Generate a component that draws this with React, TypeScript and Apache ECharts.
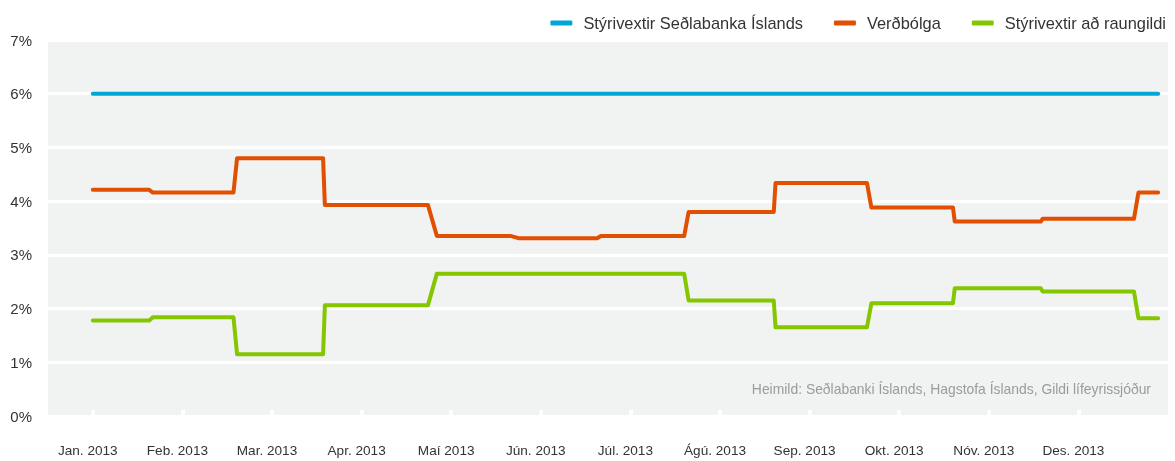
import React, { useEffect, useRef } from "react";
import * as echarts from "echarts";

// x values are in months since Jan. 2013 (0 = Jan. 2013 tick, 1 = Feb. 2013 tick, ...)
const monthLabels = [
  "Jan. 2013", "Feb. 2013", "Mar. 2013", "Apr. 2013", "Maí 2013", "Jún. 2013",
  "Júl. 2013", "Ágú. 2013", "Sep. 2013", "Okt. 2013", "Nóv. 2013", "Des. 2013",
];
const monthTicks = [0, 1, 2, 3, 4, 5, 6, 7, 8, 9, 10, 11];

const seriesNames = ["Stýrivextir Seðlabanka Íslands", "Verðbólga", "Stýrivextir að raungildi"];
const seriesColors = ["#00a6d6", "#e14f00", "#84c600"];

// [start, end, value %]
const styrivextirSteps: [number, number, number][] = [[0, 11.89, 6.0]];
const verdbolgaSteps: [number, number, number][] = [
  [0, 0.63, 4.21], [0.67, 1.57, 4.16], [1.61, 2.57, 4.8], [2.59, 3.74, 3.93],
  [3.84, 4.67, 3.35], [4.75, 5.63, 3.31], [5.67, 6.6, 3.35], [6.65, 7.6, 3.8],
  [7.62, 8.64, 4.34], [8.69, 9.6, 3.88], [9.62, 10.58, 3.62], [10.6, 11.62, 3.67],
  [11.67, 11.89, 4.16],
];
const raungildiSteps: [number, number, number][] = [
  [0, 0.63, 1.78], [0.67, 1.57, 1.84], [1.61, 2.57, 1.15], [2.59, 3.74, 2.06],
  [3.84, 6.6, 2.65], [6.65, 7.6, 2.15], [7.62, 8.64, 1.65], [8.69, 9.6, 2.1],
  [9.62, 10.58, 2.38], [10.6, 11.62, 2.32], [11.67, 11.89, 1.82],
];
const yTicks = [0, 1, 2, 3, 4, 5, 6, 7];
const sourceText = "Heimild: Seðlabanki Íslands, Hagstofa Íslands, Gildi lífeyrissjóður";

const toPoints = (steps: [number, number, number][]) =>
  steps.flatMap(([a, b, v]) => [[a, v], [b, v]]);

const FONT = "'Liberation Sans', Arial, sans-serif";

export default function App() {
  const ref = useRef<HTMLDivElement>(null);
  useEffect(() => {
    if (!ref.current) return;
    const chart = echarts.init(ref.current, undefined, { renderer: "svg" });
    const allSteps = [styrivextirSteps, verdbolgaSteps, raungildiSteps];
    chart.setOption({
      animation: false,
      textStyle: { fontFamily: FONT },
      grid: {
        left: 48, right: 7, top: 40, bottom: 45,
        show: true, backgroundColor: "#f1f2f2", borderWidth: 0,
        outerBoundsMode: "none",
      },
      legend: {
        right: 4, top: 10,
        icon: "roundRect", itemWidth: 22, itemHeight: 5, itemGap: 31,
        textStyle: { fontSize: 16.4, color: "#333", fontFamily: FONT, padding: [0, 0, 0, 6] },
        data: seriesNames,
      },
      xAxis: {
        type: "value", min: -0.5, max: 12,
        axisLine: { show: false },
        splitLine: { show: false },
        axisTick: {
          show: true, inside: true, length: 6,
          lineStyle: { color: "#ffffff", width: 4 },
          customValues: monthTicks,
        },
        axisLabel: {
          customValues: monthTicks,
          formatter: (v: number) => monthLabels[Math.round(v)] ?? "",
          fontSize: 13.6, color: "#333", margin: 27, fontFamily: FONT,
          padding: [0, 10, 0, 0],
        },
      },
      yAxis: {
        type: "value", min: 0, max: 7, interval: 1,
        axisLine: { show: false }, axisTick: { show: false },
        splitLine: { show: true, lineStyle: { color: "#ffffff", width: 3 } },
        axisLabel: {
          formatter: (v: number) => (yTicks.includes(v) ? `${v}%` : ""),
          fontSize: 15, color: "#333", margin: 16, fontFamily: FONT,
        },
      },
      series: seriesNames.map((name, i) => ({
        name, type: "line", showSymbol: false, symbol: "none",
        color: seriesColors[i],
        lineStyle: { width: 4, color: seriesColors[i], cap: "round", join: "round" },
        data: toPoints(allSteps[i]),
      })),
      graphic: [
        {
          type: "text", right: 24, top: 382,
          style: { text: sourceText, fill: "#9b9b9b", fontSize: 13.9, fontFamily: FONT },
        },
      ],
    });
    return () => chart.dispose();
  }, []);
  return (
    <div
      ref={ref}
      style={{ position: "fixed", left: 0, top: 0, width: 1175, height: 461 }}
    />
  );
}
